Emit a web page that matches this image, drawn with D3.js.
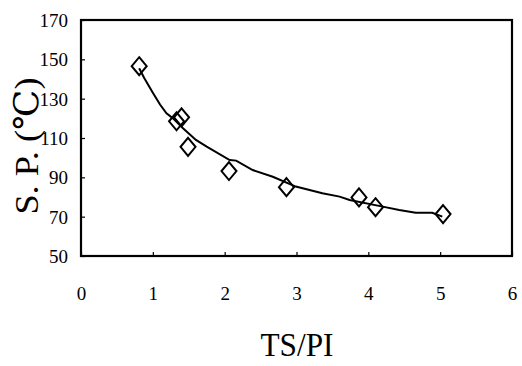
<!DOCTYPE html>
<html>
<head>
<meta charset="utf-8">
<script src="https://cdn.jsdelivr.net/npm/d3@7"></script>
<style>
  body { margin: 0; background: #fff; }
</style>
</head>
<body>
<div class="chart"></div>
<script>
// measured points (diamonds)
var ratio = [0.81, 1.33, 1.40, 1.49, 2.06, 2.86, 3.87, 4.10, 5.04];
var softPoint = [146.5, 118.5, 120.5, 105.5, 93.2, 85.0, 79.8, 74.8, 71.3];

// fitted curve
var fitX = [0.81, 0.88, 1.0, 1.1, 1.19, 1.28, 1.42, 1.6, 1.75, 2.07, 2.16, 2.39, 2.67, 2.99, 3.36, 3.6, 3.74, 4.2, 4.43, 4.66, 4.89, 5.03];
var fitY = [145.5, 140.5, 133, 127, 122.5, 120, 115, 109, 105.6, 98.8, 98.5, 93.7, 90.3, 85.3, 81.9, 80.2, 78.5, 75.1, 73.4, 72, 72, 70];

var xTicks = [0, 1, 2, 3, 4, 5, 6];
var yTicks = [50, 70, 90, 110, 130, 150, 170];

var serif = "'Liberation Serif', 'DejaVu Serif', serif";

// set the dimensions and margins of the graph
var margin = { top: 20, right: 10, bottom: 110, left: 81 },
    width = 522 - margin.left - margin.right,
    height = 366 - margin.top - margin.bottom;

var svg = d3.select(".chart")
    .append("svg")
    .attr("width", width + margin.left + margin.right)
    .attr("height", height + margin.top + margin.bottom)
    .append("g")
    .attr("transform", "translate(" + margin.left + "," + margin.top + ")");

var x = d3.scaleLinear().domain([0, 6]).range([0, width]);
var y = d3.scaleLinear().domain([50, 170]).range([height, 0]);

// X axis, ticks pointing inward
var gx = svg.append("g")
    .attr("transform", "translate(0," + height + ")")
    .call(d3.axisBottom(x).tickValues(xTicks).tickFormat(d3.format("d"))
        .tickSizeInner(-4).tickSizeOuter(0).tickPadding(31));

// Y axis
var gy = svg.append("g")
    .call(d3.axisLeft(y).tickValues(yTicks).tickFormat(d3.format("d"))
        .tickSizeInner(-4).tickSizeOuter(0).tickPadding(13));

gx.attr("font-family", serif).attr("font-size", 19);
gy.attr("font-family", serif).attr("font-size", 19);
gy.selectAll("text").attr("dy", "0.34em");
svg.selectAll(".domain").remove();
svg.selectAll(".tick line").attr("stroke", "#000").attr("stroke-width", 1.2);

// frame
svg.append("rect")
    .attr("x", 0).attr("y", 0)
    .attr("width", width).attr("height", height)
    .attr("fill", "none")
    .attr("stroke", "#000")
    .attr("stroke-width", 2.2);

// fitted line
var fit = fitX.map(function (d, i) { return [d, fitY[i]]; });
svg.append("path")
    .datum(fit)
    .attr("fill", "none")
    .attr("stroke", "#000")
    .attr("stroke-width", 2)
    .attr("d", d3.line()
        .x(function (d) { return x(d[0]); })
        .y(function (d) { return y(d[1]); }));

// diamonds
svg.selectAll(".pt")
    .data(ratio)
    .enter()
    .append("path")
    .attr("class", "pt")
    .attr("d", "M0,-9L7.5,0L0,9L-7.5,0Z")
    .attr("transform", function (d, i) { return "translate(" + x(d) + "," + y(softPoint[i]) + ")"; })
    .attr("fill", "none")
    .attr("stroke", "#000")
    .attr("stroke-width", 2);

// axis titles
svg.append("text")
    .attr("x", 216)
    .attr("y", 336)
    .attr("text-anchor", "middle")
    .attr("font-family", serif)
    .attr("font-size", 34)
    .attr("textLength", 73)
    .attr("lengthAdjust", "spacingAndGlyphs")
    .text("TS/PI");

svg.append("text")
    .attr("transform", "translate(-43,126) rotate(-90)")
    .attr("text-anchor", "middle")
    .attr("font-family", serif)
    .attr("font-size", 34)
    .attr("textLength", 137)
    .attr("lengthAdjust", "spacingAndGlyphs")
    .text("S. P. (℃)");
</script>
</body>
</html>
